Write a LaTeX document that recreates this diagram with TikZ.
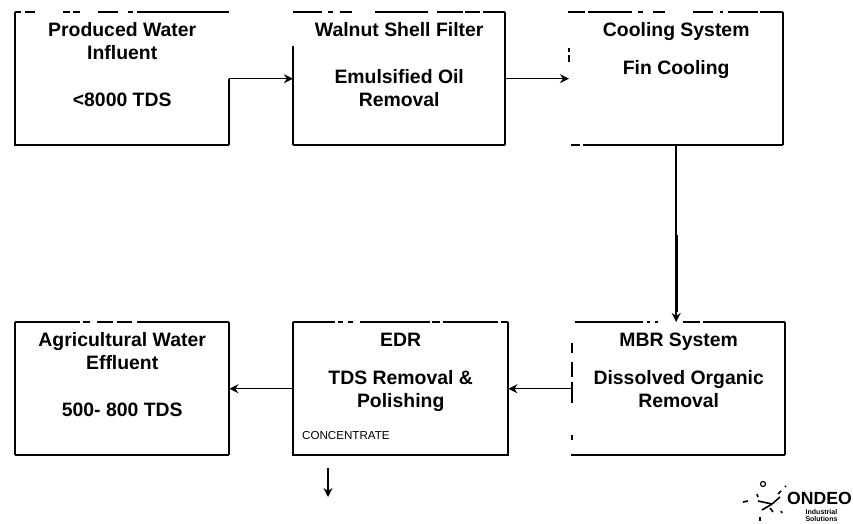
\documentclass[tikz,border=0pt]{standalone}
\usepackage{fontspec}
\setmainfont{Liberation Sans}
\usetikzlibrary{arrows.meta,positioning}
\tikzset{
  procbox/.style={anchor=north west,inner sep=0pt,minimum height=133pt,font=\bfseries\fontsize{19.4}{23}\selectfont},
  edge/.style={line width=1.5pt},
  heavy/.style={line width=2.6pt},
  flow/.style={line width=1.5pt,-{Stealth[length=9pt,width=9pt]}}
}
\newcommand{\boxtext}[2]{\parbox[c][133pt][t]{#1pt}{\centering\vspace*{10.5pt}#2}}

\begin{document}
\begin{tikzpicture}[x=1pt,y=-1pt]
  \useasboundingbox (0,0) rectangle (853,523);

  % Process boxes
  \node[procbox,minimum width=214pt] (influent) at (15,12)
    {\boxtext{212}{Produced Water\\Influent\\[24pt]{}<8000 TDS}};
  \node[procbox,minimum width=212pt] (walnut) at (293,12)
    {\boxtext{212}{Walnut Shell Filter\\[24pt]{}Emulsified Oil\\Removal}};
  \node[procbox,minimum width=214pt] (cooling) at (569,12)
    {\boxtext{214}{Cooling System\\[15pt]{}Fin Cooling}};
  \node[procbox,minimum width=214pt] (effluent) at (15,322)
    {\boxtext{212}{Agricultural Water\\Effluent\\[24pt]{}500- 800 TDS}};
  \node[procbox,minimum width=215pt] (edr) at (293,322)
    {\boxtext{215}{EDR\\[15pt]{}TDS Removal \&\\Polishing}};
  \node[procbox,minimum width=213pt] (mbr) at (572,322)
    {\boxtext{213}{MBR System\\[15pt]{}Dissolved Organic\\Removal}};
  \node[anchor=west,inner sep=0pt,font=\fontsize{11.6}{12}\selectfont] (concentrate) at (302,435) {CONCENTRATE};

  % Box outlines, broken as printed
  \foreach \a/\b in {15/21,25/35,63/70,73/80,98/118,128/133,137/229}
    {\draw[edge] (\a,12) -- (\b,12);}
  \draw[edge] (15,12) -- (15,145) -- (104,145);
  \draw[heavy] (104,145) -- (229,145);
  \draw[edge] (229,145) -- (229,78.5);

  \foreach \a/\b in {293/322,328/333,340/352,375/428,437/463,465/480,483/505}
    {\draw[edge] (\a,12) -- (\b,12);}
  \draw[edge] (293,46) -- (293,145);
  \draw[heavy] (293,145) -- (505,145);
  \draw[edge] (505,12) -- (505,145);

  \foreach \a/\b in {568/585,588/632,638/643,653/665,693/713,720/723,728/758,760/783}
    {\draw[edge] (\a,12) -- (\b,12);}
  \foreach \a/\b in {48/52,55/62}
    {\draw[edge] (569,\a) -- (569,\b);}
  \draw[edge] (783,12) -- (783,145);
  \draw[edge] (571,145) -- (580,145) (583,145) -- (698,145);
  \draw[heavy] (698,145) -- (783,145);

  \foreach \a/\b in {15/80,83/90,97/113,117/132,137/229}
    {\draw[edge] (\a,322) -- (\b,322);}
  \draw[edge] (15,322) -- (15,455) (229,322) -- (229,455);
  \draw[heavy] (15,455) -- (229,455);

  \foreach \a/\b in {293/335,338/343,348/353,360/430,432/440,443/498,501/508}
    {\draw[edge] (\a,322) -- (\b,322);}
  \draw[edge] (293,322) -- (293,455) -- (508,455) -- (508,322);

  \foreach \a/\b in {575/643,647/650,655/658,683/700,703/785}
    {\draw[edge] (\a,322) -- (\b,322);}
  \foreach \a/\b in {343/353,362/377,382/403,435/440}
    {\draw[edge] (572,\a) -- (572,\b);}
  \draw[edge] (785,322) -- (785,455) (571,455) -- (583,455);
  \draw[heavy] (583,455) -- (785,455);

  % Connectors
  \coordinate (concout) at (328,468);
  \coordinate (concend) at (328,497);
  \draw[flow] (influent.east) -- (walnut.west);
  \draw[flow] (walnut.east) -- (cooling.west);
  \draw[flow] (cooling.south) -- (cooling.south |- mbr.north);
  \draw[heavy] (cooling.south |- 0,235) -- (cooling.south |- 0,312);
  \draw[flow] (mbr.west) -- (edr.east);
  \draw[flow] (edr.west) -- (effluent.east);
  \draw[flow] (concout) -- (concend);

  % Logo
  \node[anchor=west,inner sep=0pt,font=\bfseries\fontsize{17.6}{18}\selectfont] (ondeo) at (787,498) {ONDEO};
  \node[below=5pt of ondeo,xshift=2pt,inner sep=0pt,align=center,font=\bfseries\fontsize{7}{7}\selectfont] (industrial) {Industrial\\Solutions};
  \foreach \a/\b/\c/\d in {743/502/748/501,757/494/758/497,758/501/772/504,762/510/772/504,772/504/780/497,778/494/781/491,785/487/786/486,770/508/773/512,781/511/782/513,760/517/760/521}
    {\draw[line width=1.6pt] (\a,\b) -- (\c,\d);}
  \draw[line width=1.2pt] (763,484) circle (2.5pt);
\end{tikzpicture}
\end{document}
